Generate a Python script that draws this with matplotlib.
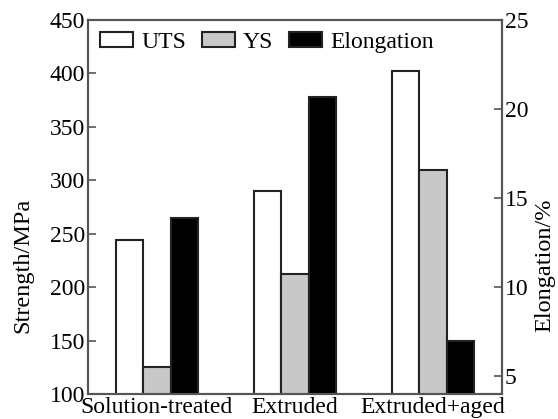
import matplotlib
matplotlib.use("Agg")
import matplotlib.pyplot as plt
import numpy as np
from matplotlib.patches import Patch

# data
conditions = ["Solution-treated", "Extruded", "Extruded+aged"]
uts = [244, 290, 402]
ys = [125, 212, 310]
elongation = [13.9, 20.7, 7.0]

plt.rcParams["font.family"] = ["Liberation Serif", "DejaVu Serif"]
plt.rcParams["font.size"] = 17

fig = plt.figure(figsize=(5.58, 4.19), dpi=100)
ax = fig.add_axes([0.1577, 0.0597, 0.7419, 0.8926])
ax2 = ax.twinx()

x = np.arange(len(conditions))
w = 0.2
edge = dict(edgecolor="#222222", linewidth=1.5)

ax.bar(x - w, uts, w, color="white", **edge)
ax.bar(x, ys, w, color="#c8c8c8", **edge)
ax2.bar(x + w, elongation, w, color="black", **edge)

ax.set_xlim(-0.5, 2.5)
ax.set_ylim(100, 450)
ax2.set_ylim(4, 25)
ax.set_yticks(np.arange(100, 451, 50))
ax2.set_yticks([5, 10, 15, 20, 25])
ax.set_xticks(x)
ax.set_xticklabels(conditions)

ax.tick_params(axis="y", direction="in", length=6, width=1.2, color="#555555", pad=2)
ax2.tick_params(axis="y", direction="in", length=6, width=1.2, color="#555555", pad=2)
ax.tick_params(axis="x", length=0, pad=2)

for a in (ax, ax2):
    for s in a.spines.values():
        s.set_color("#555555")
        s.set_linewidth(1.5)

ax.set_ylabel("Strength/MPa", fontsize=17.5)
ax2.set_ylabel("Elongation/%", fontsize=17.5)
ax.yaxis.set_label_coords(-0.133, 0.345)
ax2.yaxis.set_label_coords(1.078, 0.345)

handles = [Patch(facecolor="white", label="UTS", **edge),
           Patch(facecolor="#c8c8c8", label="YS", **edge),
           Patch(facecolor="black", label="Elongation", **edge)]
ax.legend(handles=handles, ncol=3, frameon=False, loc="upper left",
          bbox_to_anchor=(0.001, 1.0), handlelength=1.4, handleheight=0.6,
          handletextpad=0.35, columnspacing=0.65, borderaxespad=0.1)

fig.savefig("out.png", dpi=100)
